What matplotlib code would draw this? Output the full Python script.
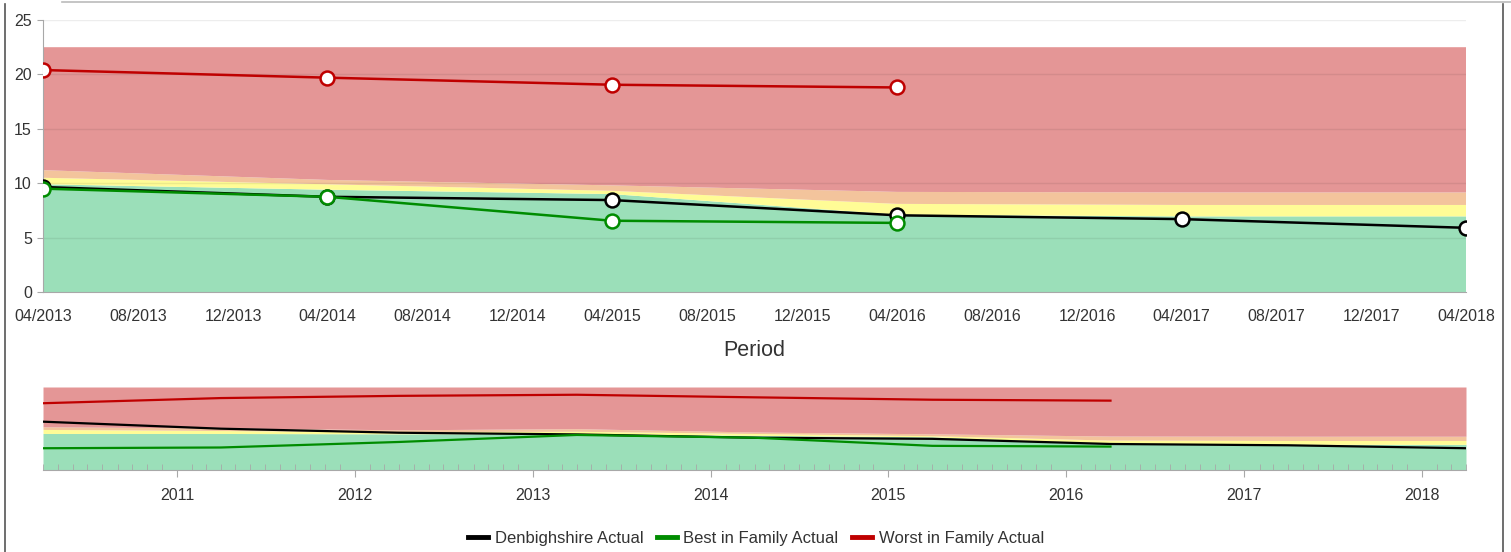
import datetime as dt
import matplotlib
matplotlib.use("Agg")
import matplotlib.pyplot as plt
import matplotlib.dates as mdates
from matplotlib.lines import Line2D

plt.rcParams['font.family'] = ['Liberation Sans', 'DejaVu Sans']

# April of each year
periods = [dt.date(y, 4, 1) for y in range(2010, 2019)]

# actual values (None = no data)
denbighshire = [13.1, 11.2, 10.1, 9.65, 8.75, 8.45, 7.05, 6.7, 5.9]
best_family = [5.9, 6.1, 7.6, 9.5, 8.75, 6.55, 6.35, None, None]
worst_family = [18.1, 19.5, 20.1, 20.4, 19.7, 19.05, 18.8, None, None]

# performance bands (upper edge of each band)
green_top = [9.9, 9.9, 9.8, 9.9, 9.4, 9.0, 7.1, 6.95, 6.95]
yellow_top = [11.0, 10.7, 10.4, 10.5, 9.9, 9.3, 8.1, 8.0, 8.0]
orange_top = [11.7, 11.4, 10.9, 11.2, 10.3, 9.8, 9.2, 9.15, 9.15]
red_top = [22.5, 22.5, 22.5, 22.5, 22.5, 22.5, 22.5, 22.5, 22.5]

series = [
    ('Denbighshire Actual', denbighshire, '#000000'),
    ('Best in Family Actual', best_family, '#008c00'),
    ('Worst in Family Actual', worst_family, '#bf0000'),
]

band_colors = ['#9bdfb9', '#fffc96', '#f3c49c', '#e49696']
text_color = '#333333'
axis_color = '#a8a8a8'


def draw_bands(ax):
    lows = [[0] * len(periods), green_top, yellow_top, orange_top]
    highs = [green_top, yellow_top, orange_top, red_top]
    for lo, hi, c in zip(lows, highs, band_colors):
        ax.fill_between(periods, lo, hi, color=c, linewidth=0, zorder=1)


def valid(xs, ys):
    pts = [(x, y) for x, y in zip(xs, ys) if y is not None]
    return [p[0] for p in pts], [p[1] for p in pts]


fig = plt.figure(figsize=(15.11, 5.52), dpi=100)

# ---- main chart ----
ax = fig.add_axes([43 / 1511, 1 - 292 / 552, 1423 / 1511, 272 / 552])
draw_bands(ax)
for name, vals, col in series:
    xs, ys = valid(periods, vals)
    ax.plot(xs, ys, color=col, lw=1.8, marker='o', markersize=10,
            markerfacecolor='white', markeredgecolor=col, markeredgewidth=1.8,
            zorder=3)

ax.set_xlim(dt.date(2013, 4, 1), dt.date(2018, 4, 1))
ax.set_ylim(0, 25)
ax.set_yticks([0, 5, 10, 15, 20, 25])
for yv in [5, 10, 15, 20, 25]:
    ax.axhline(yv, color='black', alpha=0.07, lw=1, zorder=2)

ax.xaxis.set_major_locator(mdates.MonthLocator(bymonth=[4, 8, 12]))
ax.xaxis.set_major_formatter(mdates.DateFormatter('%m/%Y'))
ax.tick_params(axis='x', length=0, pad=12, labelsize=11.5, labelcolor=text_color)
ax.tick_params(axis='y', length=4, color=axis_color, pad=4,
               labelsize=11.5, labelcolor=text_color)
for s in ['top', 'right']:
    ax.spines[s].set_visible(False)
for s in ['left', 'bottom']:
    ax.spines[s].set_color(axis_color)
ax.set_xlabel('Period', fontsize=15.5, color=text_color, labelpad=12)

# ---- navigator ----
nav = fig.add_axes([43 / 1511, 1 - 470 / 552, 1423 / 1511, 83 / 552])
draw_bands(nav)
for name, vals, col in series:
    xs, ys = valid(periods, vals)
    nav.plot(xs, ys, color=col, lw=1.6, zorder=3)
nav.set_xlim(dt.date(2010, 4, 1), dt.date(2018, 4, 1))
nav.set_ylim(0, 22.5)
nav.set_yticks([])
nav.xaxis.set_major_locator(mdates.YearLocator())
nav.xaxis.set_major_formatter(mdates.DateFormatter('%Y'))
nav.xaxis.set_minor_locator(mdates.MonthLocator())
nav.tick_params(axis='x', which='major', length=5, color=axis_color, pad=8,
                labelsize=11.5, labelcolor=text_color)
nav.tick_params(axis='x', which='minor', direction='in', length=4, color=axis_color)
for s in ['top', 'right', 'left']:
    nav.spines[s].set_visible(False)
nav.spines['bottom'].set_color(axis_color)

# ---- legend ----
handles = [Line2D([], [], color=col, lw=3.5) for _, _, col in series]
fig.legend(handles, [n for n, _, _ in series], loc='center', ncol=3,
           bbox_to_anchor=(756 / 1511, 1 - 538 / 552), frameon=False,
           fontsize=12, handlelength=1.2, handletextpad=0.4, columnspacing=0.8,
           labelcolor=text_color)

# container border
fig.add_artist(Line2D([5 / 1511, 5 / 1511], [0, 1 - 4 / 552],
                      transform=fig.transFigure, color='#555555', lw=1.2))
fig.add_artist(Line2D([1503 / 1511, 1503 / 1511], [0, 1 - 4 / 552],
                      transform=fig.transFigure, color='#555555', lw=1.2))
fig.add_artist(Line2D([62 / 1511, 1], [1 - 1.5 / 552, 1 - 1.5 / 552],
                      transform=fig.transFigure, color='#bbbbbb', lw=1.2))

fig.savefig('out.png', dpi=100)
